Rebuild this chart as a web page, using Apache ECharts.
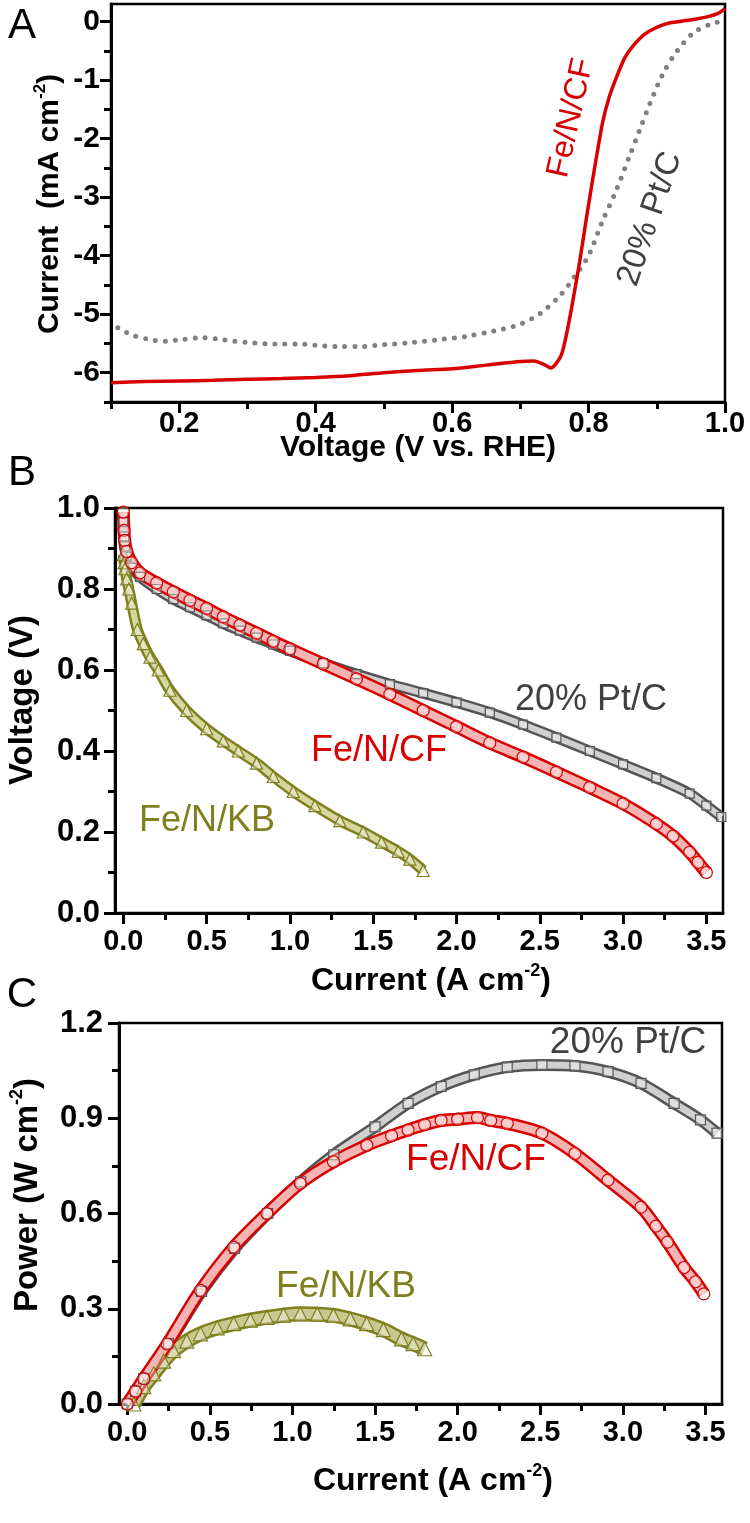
<!DOCTYPE html>
<html>
<head>
<meta charset="utf-8">
<script src="https://cdn.jsdelivr.net/npm/echarts@6/dist/echarts.min.js"></script>
<style>
  html, body { margin: 0; padding: 0; background: #fff; }
  #chart { width: 750px; height: 1523px; }
</style>
</head>
<body>
<div id="chart"></div>
<script>
// ---------------- DATA ----------------
// Panel A: ORR polarisation (Voltage V vs RHE -> Current mA cm-2)
const A_CF_V = [0.10, 0.15, 0.20, 0.25, 0.30, 0.35, 0.40, 0.45, 0.50, 0.55, 0.60, 0.65, 0.70, 0.72, 0.735, 0.745, 0.752, 0.760, 0.767, 0.775, 0.787, 0.797, 0.806, 0.814, 0.821, 0.830, 0.841, 0.853, 0.865, 0.882, 0.900, 0.917, 0.951, 0.975, 0.990, 1.000];
const A_CF_I = [-6.17, -6.15, -6.14, -6.13, -6.11, -6.10, -6.08, -6.05, -6.00, -5.96, -5.93, -5.87, -5.81, -5.80, -5.86, -5.92, -5.85, -5.70, -5.38, -4.90, -4.10, -3.35, -2.70, -2.15, -1.70, -1.30, -0.95, -0.62, -0.42, -0.22, -0.10, -0.03, 0.03, 0.085, 0.14, 0.22];
const A_PT_V = [0.110, 0.130, 0.155, 0.180, 0.205, 0.235, 0.260, 0.280, 0.310, 0.340, 0.375, 0.400, 0.430, 0.470, 0.500, 0.535, 0.585, 0.620, 0.660, 0.700, 0.730, 0.760, 0.780, 0.800, 0.820, 0.840, 0.860, 0.875, 0.890, 0.910, 0.930, 0.955, 0.980, 1.000];
const A_PT_I = [-5.23, -5.35, -5.43, -5.46, -5.43, -5.40, -5.43, -5.46, -5.49, -5.51, -5.51, -5.53, -5.55, -5.55, -5.52, -5.49, -5.43, -5.38, -5.29, -5.17, -4.98, -4.66, -4.35, -4.00, -3.42, -2.90, -2.30, -1.85, -1.40, -0.87, -0.50, -0.18, -0.04, 0.02];

// Panel B: polarisation curves (Current A cm-2 -> Voltage V)
const B_CF_I = [0, 0.004, 0.008, 0.02, 0.05, 0.1, 0.2, 0.3, 0.4, 0.5, 0.6, 0.7, 0.8, 0.9, 1.0, 1.2, 1.4, 1.6, 1.8, 2.0, 2.2, 2.4, 2.6, 2.8, 3.0, 3.2, 3.3, 3.4, 3.45, 3.5];
const B_CF_V = [0.99, 0.945, 0.92, 0.893, 0.865, 0.84, 0.815, 0.793, 0.772, 0.752, 0.731, 0.711, 0.691, 0.671, 0.652, 0.615, 0.578, 0.54, 0.50, 0.46, 0.42, 0.385, 0.348, 0.31, 0.27, 0.22, 0.19, 0.15, 0.125, 0.10];
const B_PT_I = [0, 0.005, 0.01, 0.02, 0.05, 0.1, 0.2, 0.3, 0.4, 0.5, 0.6, 0.7, 0.8, 0.9, 1.0, 1.2, 1.4, 1.6, 1.8, 2.0, 2.2, 2.4, 2.6, 2.8, 3.0, 3.2, 3.4, 3.5, 3.59];
const B_PT_V = [0.965, 0.93, 0.905, 0.88, 0.853, 0.83, 0.80, 0.775, 0.755, 0.735, 0.715, 0.697, 0.68, 0.663, 0.647, 0.617, 0.59, 0.565, 0.543, 0.52, 0.495, 0.465, 0.433, 0.40, 0.367, 0.333, 0.295, 0.265, 0.237];
const B_KB_I = [0, 0.005, 0.01, 0.02, 0.033, 0.05, 0.084, 0.12, 0.16, 0.21, 0.28, 0.38, 0.5, 0.6, 0.69, 0.8, 0.9, 1.02, 1.15, 1.3, 1.44, 1.55, 1.65, 1.72, 1.8];
const B_KB_V = [0.885, 0.865, 0.85, 0.825, 0.80, 0.765, 0.70, 0.665, 0.632, 0.60, 0.55, 0.50, 0.455, 0.425, 0.40, 0.37, 0.337, 0.30, 0.265, 0.228, 0.20, 0.175, 0.152, 0.133, 0.105];

// Panel C: power density (Current A cm-2 -> Power W cm-2)
const C_CF_I = [0, 0.05, 0.1, 0.242, 0.443, 0.644, 0.845, 1.047, 1.248, 1.45, 1.6, 1.7, 1.8, 1.9, 2.0, 2.12, 2.2, 2.3, 2.51, 2.71, 2.91, 3.11, 3.2, 3.27, 3.37, 3.44, 3.49];
const C_CF_P = [0, 0.04, 0.08, 0.189, 0.358, 0.494, 0.60, 0.695, 0.763, 0.815, 0.845, 0.863, 0.88, 0.893, 0.897, 0.902, 0.893, 0.884, 0.853, 0.789, 0.705, 0.62, 0.56, 0.51, 0.43, 0.385, 0.347];
const C_PT_I = [0, 0.05, 0.1, 0.25, 0.45, 0.65, 0.85, 1.05, 1.25, 1.5, 1.7, 1.9, 2.1, 2.3, 2.51, 2.71, 2.91, 3.11, 3.31, 3.47, 3.57];
const C_PT_P = [0, 0.04, 0.08, 0.19, 0.355, 0.49, 0.60, 0.70, 0.785, 0.873, 0.947, 1.0, 1.037, 1.061, 1.068, 1.065, 1.047, 1.01, 0.947, 0.895, 0.853];
const C_KB_I = [0.04, 0.1, 0.16, 0.22, 0.28, 0.36, 0.443, 0.544, 0.644, 0.745, 0.845, 0.946, 1.047, 1.15, 1.248, 1.35, 1.449, 1.55, 1.66, 1.73, 1.80];
const C_KB_P = [0, 0.055, 0.095, 0.135, 0.168, 0.198, 0.221, 0.24, 0.253, 0.264, 0.273, 0.28, 0.284, 0.283, 0.279, 0.268, 0.253, 0.234, 0.205, 0.19, 0.174];

// Tick values
const A_X_MAJOR = [0.2, 0.4, 0.6, 0.8, 1.0];
const A_X_MINOR = [0.1, 0.3, 0.5, 0.7, 0.9];
const A_Y_MAJOR = [-6, -5, -4, -3, -2, -1, 0];
const A_Y_MINOR = [-6.5, -5.5, -4.5, -3.5, -2.5, -1.5, -0.5];
const BC_X_MAJOR = [0, 0.5, 1.0, 1.5, 2.0, 2.5, 3.0, 3.5];
const BC_X_MINOR = [0.25, 0.75, 1.25, 1.75, 2.25, 2.75, 3.25];
const B_Y_MAJOR = [0, 0.2, 0.4, 0.6, 0.8, 1.0];
const B_Y_MINOR = [0.1, 0.3, 0.5, 0.7, 0.9];
const C_Y_MAJOR = [0, 0.3, 0.6, 0.9, 1.2];
const C_Y_MINOR = [0.15, 0.45, 0.75, 1.05];

// ---------------- STYLE ----------------
const FONT = '"Liberation Sans", Arial, Helvetica, sans-serif';
const RED = '#d80000';
const GREY = '#555555';
const OLIVE = '#7f7f1e';

const zip = (a, b) => a.map((v, i) => [v, b[i]]);

function axes(gridIndex, position, min, max, majors, minors, fmt, margin, fontSize) {
  const isY = position === 'left';
  const label = { show: true, customValues: majors, formatter: fmt, margin,
    fontSize, fontWeight: 'bold', color: '#000', fontFamily: FONT };
  if (isY) { label.align = 'right'; label.verticalAlign = 'middle'; }
  return [
    {
      type: 'value', gridIndex, position, min, max,
      axisLine: { show: true, onZero: false, lineStyle: { color: '#000', width: 3 } },
      axisTick: { show: true, inside: false, length: 11, customValues: majors, lineStyle: { color: '#000', width: 3 } },
      axisLabel: label,
      splitLine: { show: false }
    },
    {
      type: 'value', gridIndex, position, offset: 0, min, max,
      axisLine: { show: false, onZero: false },
      axisTick: { show: true, inside: false, length: 7, customValues: minors, lineStyle: { color: '#000', width: 3 } },
      axisLabel: { show: false },
      splitLine: { show: false }
    }
  ];
}

const f1 = v => Number(v).toFixed(1);
const f0 = v => String(Math.round(v));

const xAxis = [
  ...axes(0, 'bottom', 0.1, 1.0, A_X_MAJOR, A_X_MINOR, f1, 7, 29),
  ...axes(1, 'bottom', -0.05, 3.6, BC_X_MAJOR, BC_X_MINOR, f1, 14, 29),
  ...axes(2, 'bottom', -0.05, 3.6, BC_X_MAJOR, BC_X_MINOR, f1, 14, 29)
];
const yAxis = [
  ...axes(0, 'left', -6.5, 0.3, A_Y_MAJOR, A_Y_MINOR, f0, 11, 30),
  ...axes(1, 'left', 0, 1.0, B_Y_MAJOR, B_Y_MINOR, f1, 15, 31),
  ...axes(2, 'left', 0, 1.2, C_Y_MAJOR, C_Y_MINOR, f1, 16, 31)
];

function band(name, xs, ys, axisIdx, color, inner, width, symbol, symSize) {
  return [
    {
      name, type: 'line', xAxisIndex: axisIdx, yAxisIndex: axisIdx,
      data: zip(xs, ys), smooth: 0.3, showSymbol: false, silent: true,
      lineStyle: { color, width }, animation: false
    },
    {
      name, type: 'line', xAxisIndex: axisIdx, yAxisIndex: axisIdx,
      data: zip(xs, ys), smooth: 0.3, showSymbol: true, symbol, symbolSize: symSize,
      silent: true, animation: false,
      lineStyle: { color: inner, width: width - 5 },
      itemStyle: { color: 'rgba(255,255,255,0.35)', borderColor: color, borderWidth: 1.2 }
    }
  ];
}

const series = [
  {
    name: '20% Pt/C', type: 'line', xAxisIndex: 0, yAxisIndex: 0,
    data: zip(A_PT_V, A_PT_I), smooth: 0.3, showSymbol: false, animation: false,
    lineStyle: { color: '#808080', width: 5, type: [0, 10], cap: 'round' }
  },
  {
    name: 'Fe/N/CF', type: 'line', xAxisIndex: 0, yAxisIndex: 0,
    data: zip(A_CF_V, A_CF_I), smooth: 0.25, showSymbol: false, animation: false,
    lineStyle: { color: RED, width: 3.5 }
  },
  ...band('20% Pt/C', B_PT_I, B_PT_V, 2, GREY, '#d0d0d0', 11, 'rect', 9),
  ...band('Fe/N/KB', B_KB_I, B_KB_V, 2, OLIVE, '#d6d6a0', 11, 'triangle', 12),
  ...band('Fe/N/CF', B_CF_I, B_CF_V, 2, RED, '#f4b4b4', 13, 'circle', 12),
  ...band('20% Pt/C', C_PT_I, C_PT_P, 4, GREY, '#d0d0d0', 12, 'rect', 10),
  ...band('Fe/N/KB', C_KB_I, C_KB_P, 4, OLIVE, '#c8c890', 15, 'triangle', 14),
  ...band('Fe/N/CF', C_CF_I, C_CF_P, 4, RED, '#f4b4b4', 13, 'circle', 12)
];

function txt(text, x, y, size, color, opts) {
  opts = opts || {};
  return {
    type: 'text', x, y, rotation: opts.rot || 0, z: 100,
    style: {
      text, x: 0, y: 0, fill: color, font: (opts.bold ? 'bold ' : '') + size + 'px ' + FONT,
      align: 'center', verticalAlign: 'middle'
    }
  };
}
function richTitle(before, sup, after, x, y, size, rot) {
  const ss = Math.round(size * 0.56);
  return {
    type: 'text', x, y, rotation: rot || 0, z: 100,
    style: {
      text: '{n|' + before + '}{s|' + sup + '}{n|' + after + '}',
      x: 0, y: 0, align: 'center', verticalAlign: 'middle',
      rich: {
        n: { fontSize: size, fontWeight: 'bold', fontFamily: FONT, fill: '#000', lineHeight: size + 3, verticalAlign: 'bottom' },
        s: { fontSize: ss, fontWeight: 'bold', fontFamily: FONT, fill: '#000', lineHeight: ss, verticalAlign: 'top' }
      }
    }
  };
}

const deg = d => d * Math.PI / 180;

const graphic = [
  // panel letters
  txt('A', 22, 26, 42, '#000'),
  txt('B', 22, 473, 42, '#000'),
  txt('C', 22, 995, 42, '#000'),
  // axis titles
  txt('Voltage (V vs. RHE)', 418, 448, 30, '#000', { bold: true }),
  richTitle('Current  (mA cm', '-2', ')', 48, 204, 30, deg(90)),
  txt('Voltage (V)', 23, 700, 33, '#000', { bold: true, rot: deg(90) }),
  richTitle('Current (A cm', '-2', ')', 431, 980, 32),
  richTitle('Power (W cm', '-2', ')', 26, 1195, 33, deg(90)),
  richTitle('Current (A cm', '-2', ')', 433, 1480, 32),
  // annotations A
  txt('Fe/N/CF', 571, 118, 32, RED, { rot: deg(77.5) }),
  txt('20% Pt/C', 650, 219, 33, '#404040', { rot: deg(71) }),
  // annotations B
  txt('20% Pt/C', 591, 700, 36, '#404040'),
  txt('Fe/N/CF', 379, 751, 36, RED),
  txt('Fe/N/KB', 207, 821, 36, OLIVE),
  // annotations C
  txt('20% Pt/C', 628, 1043, 37, '#404040'),
  txt('Fe/N/CF', 476, 1160, 37, RED),
  txt('Fe/N/KB', 346, 1287, 37, OLIVE)
];

const gridStyle = { show: true, borderColor: '#000', borderWidth: 2.5, backgroundColor: 'transparent', containLabel: false };
const option = {
  backgroundColor: '#fff',
  animation: false,
  grid: [
    Object.assign({ left: 111, top: 4, width: 614, height: 398 }, gridStyle),
    Object.assign({ left: 115, top: 508, width: 608, height: 405 }, gridStyle),
    Object.assign({ left: 119, top: 1023, width: 603, height: 381 }, gridStyle)
  ],
  xAxis, yAxis, series, graphic
};

const chart = echarts.init(document.getElementById('chart'), null, { renderer: 'canvas' });
chart.setOption(option);
</script>
</body>
</html>
